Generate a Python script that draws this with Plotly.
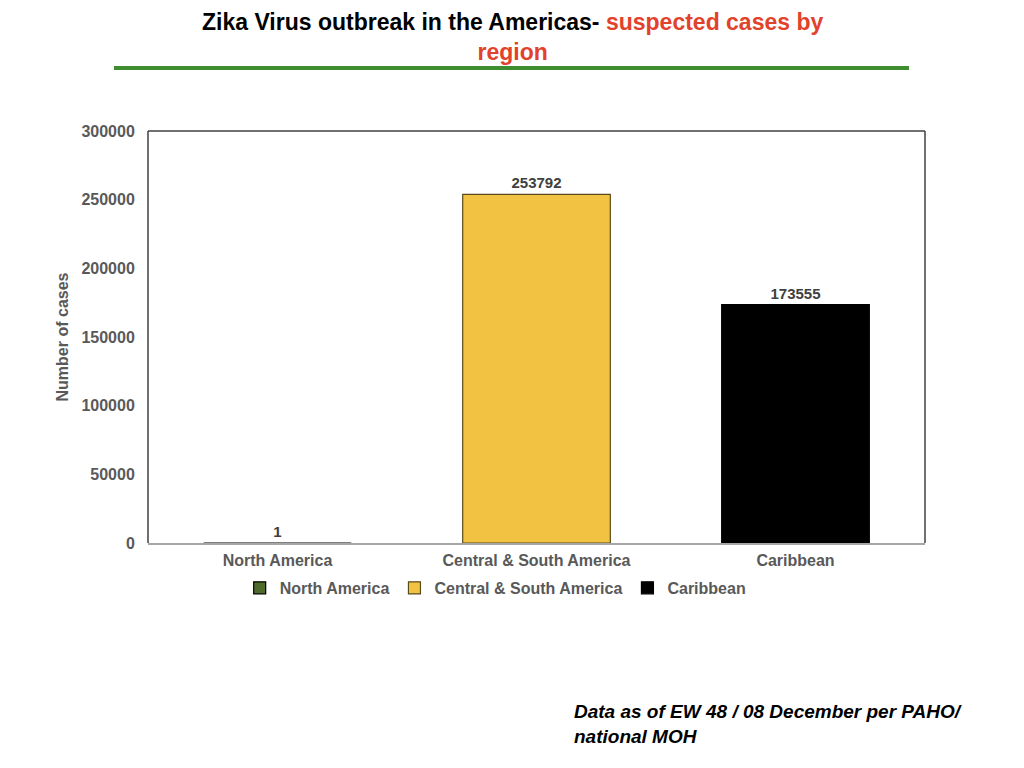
import plotly.graph_objects as go

regions = ['North America', 'Central & South America', 'Caribbean']
cases = [1, 253792, 173555]
bar_colors = ['#4f6b2c', '#f2c343', '#000000']
edge_colors = ['#000000', '#5a4a1a', '#000000']
y_ticks = [0, 50000, 100000, 150000, 200000, 250000, 300000]

fig = go.Figure()

for name, val, col, edge in zip(regions, cases, bar_colors, edge_colors):
    fig.add_trace(go.Bar(
        x=[name],
        y=[val],
        name='<b>' + name + '</b>',
        width=0.57,
        marker=dict(color=col, line=dict(color=edge, width=1.2)),
        text=['<b>' + str(val) + '</b>'],
        textposition='outside',
        cliponaxis=False,
        textfont=dict(family='Liberation Sans', size=15, color='#404040'),
    ))

# page body has an 8px margin, so the figure is 1016x760
fig.update_layout(
    width=1016,
    height=760,
    barmode='overlay',
    plot_bgcolor='white',
    paper_bgcolor='white',
    margin=dict(l=140, r=99, t=123, b=225),
    font=dict(family='Liberation Sans', color='#595959'),
    showlegend=True,
    legend=dict(
        orientation='h',
        x=0.118, xanchor='left',
        y=-0.109, yanchor='middle',
        font=dict(size=16, color='#595959'),
        itemwidth=30,
        tracegroupgap=0,
    ),
    xaxis=dict(
        showline=True, linecolor='#a6a6a6', linewidth=1.5,
        tickfont=dict(size=16, color='#595959'),
        tickvals=regions,
        ticktext=['<b>' + r + '</b>' for r in regions],
        ticks='outside', ticklen=2, tickcolor='rgba(0,0,0,0)',
        showgrid=False,
    ),
    yaxis=dict(
        range=[0, 300000],
        tickvals=y_ticks,
        ticktext=['<b>' + str(v) + '</b>' for v in y_ticks],
        tickfont=dict(size=16, color='#595959'),
        showgrid=False,
        zeroline=False,
        ticks='outside', ticklen=9, tickcolor='rgba(0,0,0,0)',
        title=dict(text='<b>Number of cases</b>', font=dict(size=16, color='#595959'), standoff=8),
    ),
)

# frame around the plot area
for x0, x1, y0, y1 in [(0, 0, 0, 1), (0, 1, 1, 1), (1, 1, 0, 1)]:
    fig.add_shape(type='line', xref='paper', yref='paper', x0=x0, x1=x1, y0=y0, y1=y1,
                  line=dict(color='#404040', width=1.5))

# green rule under the title
fig.add_shape(type='line', xref='paper', yref='paper',
              x0=(114 - 148) / 777, x1=(909 - 148) / 777,
              y0=(543 - 68) / 412, y1=(543 - 68) / 412,
              line=dict(color='#3e8e2f', width=4))

fig.add_annotation(
    xref='paper', yref='paper',
    x=(512 - 148) / 777, y=(543 - 37) / 412,
    xanchor='center', yanchor='middle',
    showarrow=False, align='center',
    text="<b>Zika Virus outbreak in the Americas- <span style='color:#e2422b'>suspected cases by</span></b><br>"
         "<b><span style='color:#e2422b'>region</span></b>",
    font=dict(family='Liberation Sans', size=23, color='#000000'),
)

fig.add_annotation(
    xref='paper', yref='paper',
    x=(572 - 148) / 777, y=(543 - 724) / 412,
    xanchor='left', yanchor='middle',
    showarrow=False, align='left',
    text='<b><i>Data as of EW 48 / 08 December per PAHO/<br>national MOH</i></b>',
    font=dict(family='Liberation Sans', size=19, color='#000000'),
)

fig.write_html('out.html')
